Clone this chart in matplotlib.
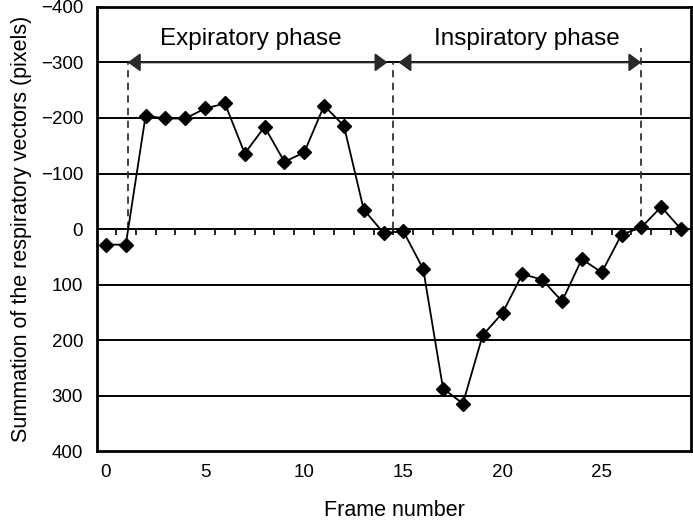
import numpy as np
import matplotlib
matplotlib.use("Agg")
import matplotlib.pyplot as plt

plt.rcParams['font.family'] = ['Liberation Sans', 'DejaVu Sans']

# data
frames = list(range(30))
summation = [28, 28, -204, -199, -199, -217, -226, -136, -184, -121,
             -138, -222, -186, -35, 7, 4, 72, 287, 314, 191,
             151, 81, 91, 130, 54, 78, 10, -3, -40, 0]
yticks = [-400, -300, -200, -100, 0, 100, 200, 300, 400]
xticks = [0, 5, 10, 15, 20, 25]

# phase markers (frame positions) and arrow level
exp_start, exp_end = 1.1, 14.5
insp_start, insp_end = 14.5, 27.0
arrow_level = -300
insp_dash_top = -325

fig = plt.figure(figsize=(6.93, 5.23), dpi=100)
ax = fig.add_axes([0.140, 0.137, 0.857, 0.850])

ax.set_xlim(-0.45, 29.5)
ax.set_ylim(400, -400)

for y in yticks[1:-1]:
    ax.axhline(y, color='black', lw=1.4, zorder=1)

# category-style tick marks on the zero line
half = np.arange(len(frames) - 1) + 0.5
ax.vlines(half, 0, 11, color='black', lw=1.2, zorder=1)

ax.plot(frames, summation, color='black', lw=1.3, marker='D', ms=7, zorder=3)

# phase boundaries
dash = dict(color='#333333', lw=1.3, linestyle=(0, (4, 3)), zorder=2)
ax.plot([exp_start, exp_start], [0, arrow_level], **dash)
ax.plot([exp_end, exp_end], [0, arrow_level], **dash)
ax.plot([insp_end, insp_end], [0, insp_dash_top], **dash)

arrow = dict(arrowstyle='<|-|>,head_length=0.75,head_width=0.55', color='#2a2a2a',
             lw=1.4, shrinkA=0, shrinkB=0)
ax.annotate('', xy=(exp_start, arrow_level), xytext=(exp_end - 0.3, arrow_level),
            arrowprops=arrow, zorder=4)
ax.annotate('', xy=(insp_start + 0.25, arrow_level), xytext=(insp_end, arrow_level),
            arrowprops=arrow, zorder=4)

ax.text((exp_start + exp_end) / 2 - 0.5, -342, 'Expiratory phase', fontsize=17.5,
        ha='center', va='center')
ax.text((insp_start + insp_end) / 2 + 0.5, -342, 'Inspiratory phase', fontsize=17.5,
        ha='center', va='center')

ax.set_yticks(yticks)
ax.set_xticks(xticks)
ax.tick_params(axis='y', length=0, pad=10, labelsize=13.5)
ax.tick_params(axis='x', length=0, pad=9, labelsize=13.5)

for s in ax.spines.values():
    s.set_linewidth(2)

ax.set_xlabel('Frame number', fontsize=15.5, labelpad=14)
ax.set_ylabel('Summation of the respiratory vectors (pixels)', fontsize=15.5, labelpad=6)

fig.savefig('out.png', dpi=100)
